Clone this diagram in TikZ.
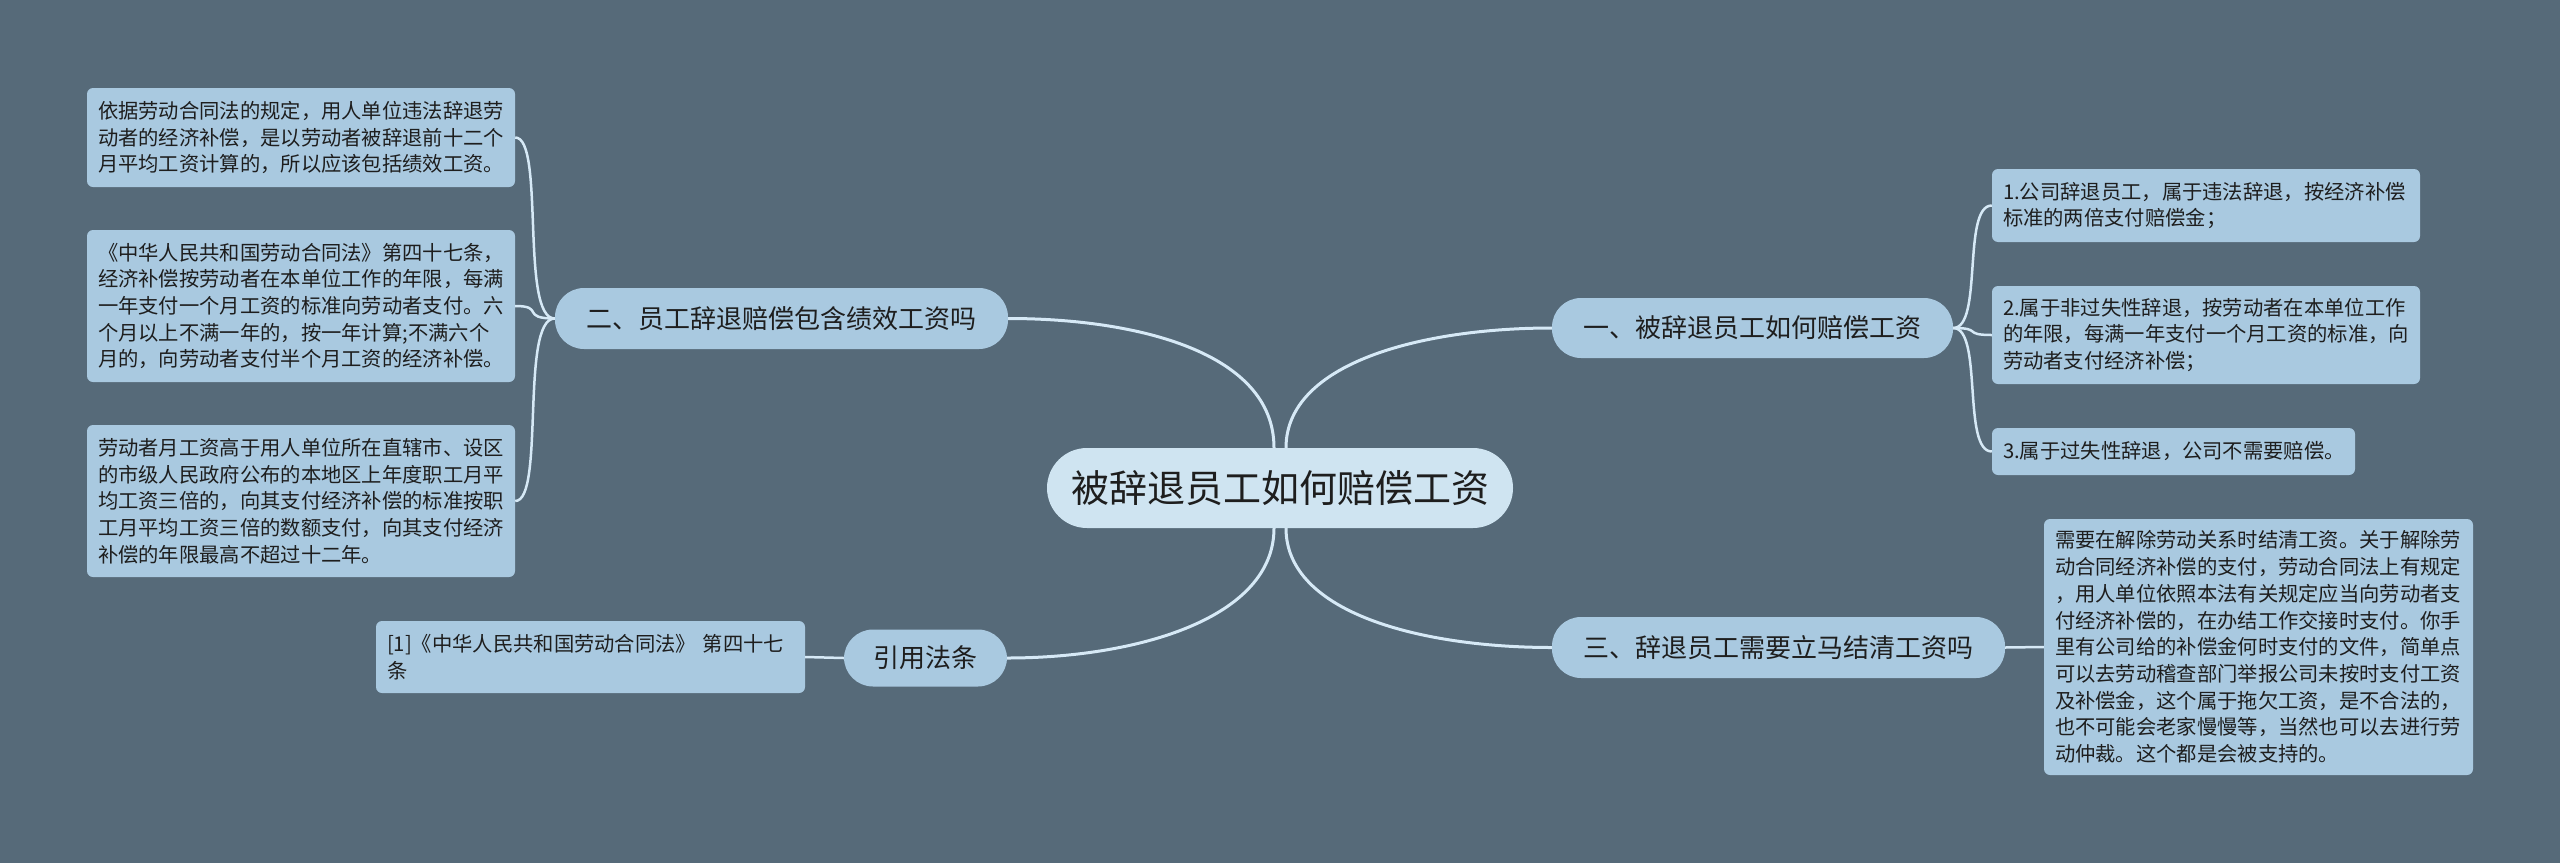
\documentclass[tikz,border=0pt]{standalone}
\usepackage{fontspec}
\setmainfont{Noto Sans CJK SC}
\definecolor{bgc}{HTML}{566A79}
\definecolor{leafc}{HTML}{A9C9E0}
\definecolor{brc}{HTML}{A9C9E0}
\definecolor{ctrc}{HTML}{CFE4F1}
\definecolor{txt}{HTML}{1E1E1E}
\definecolor{linec}{HTML}{D6E9F6}
\begin{document}
\begin{tikzpicture}[x=1pt,y=-1pt,
  leaf/.style={fill=leafc, rounded corners=6pt, align=left, text=txt, inner xsep=11pt, inner ysep=0pt,
    font=\fontsize{20.3}{26.7}\selectfont},
  branch/.style={fill=brc, rounded corners=29pt, text=txt, inner sep=0pt, font=\fontsize{26}{30}\selectfont},
  center/.style={fill=ctrc, rounded corners=40pt, text=txt, inner sep=0pt, font=\fontsize{38}{44}\selectfont},
  conn/.style={draw=linec, line width=3pt},
  sconn/.style={draw=linec, line width=2.5pt}]
\fill[bgc] (0,0) rectangle (2560,863);
\useasboundingbox (0,0) rectangle (2560,863);

% central
\node[center, minimum width=466pt, minimum height=80pt] (c) at (1280,488) {被辞退员工如何赔偿工资};

% branches
\node[branch, minimum width=401pt, minimum height=60pt] (b1) at (1752.5,328) {一、被辞退员工如何赔偿工资};
\node[branch, minimum width=453pt, minimum height=61pt] (b2) at (781.5,318.5) {二、员工辞退赔偿包含绩效工资吗};
\node[branch, minimum width=453pt, minimum height=61pt] (b3) at (1778.5,647.5) {三、辞退员工需要立马结清工资吗};
\node[branch, minimum width=163pt, minimum height=57pt] (b4) at (925.5,658) {引用法条};

% leaves left
\node[leaf, text width=406pt, minimum height=99pt] (l1) at (301,137.5) {依据劳动合同法的规定，用人单位违法辞退劳\\动者的经济补偿，是以劳动者被辞退前十二个\\月平均工资计算的，所以应该包括绩效工资。};
\node[leaf, text width=406pt, minimum height=152pt] (l2) at (301,306) {《中华人民共和国劳动合同法》第四十七条，\\经济补偿按劳动者在本单位工作的年限，每满\\一年支付一个月工资的标准向劳动者支付。六\\个月以上不满一年的，按一年计算;不满六个\\月的，向劳动者支付半个月工资的经济补偿。};
\node[leaf, text width=406pt, minimum height=152pt] (l3) at (301,501) {劳动者月工资高于用人单位所在直辖市、设区\\的市级人民政府公布的本地区上年度职工月平\\均工资三倍的，向其支付经济补偿的标准按职\\工月平均工资三倍的数额支付，向其支付经济\\补偿的年限最高不超过十二年。};
\node[leaf, text width=407pt, minimum height=72pt] (l4) at (590.5,657) {[1]《中华人民共和国劳动合同法》 第四十七\\条};

% leaves right
\node[leaf, text width=406pt, minimum height=73pt] (r1) at (2206,205.5) {1.公司辞退员工，属于违法辞退，按经济补偿\\标准的两倍支付赔偿金；};
\node[leaf, text width=406pt, minimum height=98pt] (r2) at (2206,335) {2.属于非过失性辞退，按劳动者在本单位工作\\的年限，每满一年支付一个月工资的标准，向\\劳动者支付经济补偿；};
\node[leaf, text width=341pt, minimum height=47pt] (r3) at (2173.5,451.5) {3.属于过失性辞退，公司不需要赔偿。};
\node[leaf, text width=407pt, minimum height=256pt] (r4) at (2258.5,647) {需要在解除劳动关系时结清工资。关于解除劳\\动合同经济补偿的支付，劳动合同法上有规定\\，用人单位依照本法有关规定应当向劳动者支\\付经济补偿的，在办结工作交接时支付。你手\\里有公司给的补偿金何时支付的文件，简单点\\可以去劳动稽查部门举报公司未按时支付工资\\及补偿金，这个属于拖欠工资，是不合法的，\\也不可能会老家慢慢等，当然也可以去进行劳\\动仲裁。这个都是会被支持的。};

% central connectors
\draw[conn] ([xshift=-6pt]c.north) .. controls ([xshift=-6pt,yshift=95pt]c.north) and ([xshift=130pt]b2.east) .. (b2.east);
\draw[conn] ([xshift=6pt]c.north) .. controls ([xshift=6pt,yshift=85pt]c.north) and ([xshift=-130pt]b1.west) .. (b1.west);
\draw[conn] ([xshift=-6pt]c.south) .. controls ([xshift=-6pt,yshift=-90pt]c.south) and ([xshift=130pt]b4.east) .. (b4.east);
\draw[conn] ([xshift=6pt]c.south) .. controls ([xshift=6pt,yshift=-85pt]c.south) and ([xshift=-130pt]b3.west) .. (b3.west);

% leaf connectors
\foreach \l in {r1,r2,r3}{
  \draw[sconn] (b1.east) .. controls ([xshift=30pt]b1.east) and ([xshift=-30pt]\l.west) .. (\l.west);
}
\foreach \l in {l1,l2,l3}{
  \draw[sconn] (b2.west) .. controls ([xshift=-35pt]b2.west) and ([xshift=30pt]\l.east) .. (\l.east);
}
\draw[sconn] (b3.east) -- (r4.west);
\draw[sconn] (b4.west) -- (l4.east);
\end{tikzpicture}
\end{document}
